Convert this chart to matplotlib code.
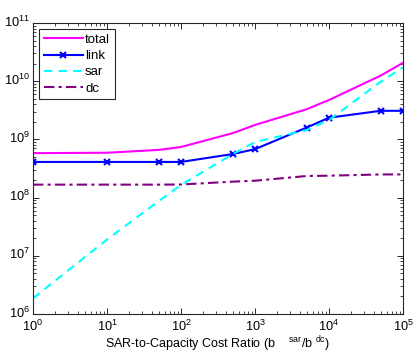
import matplotlib
matplotlib.use("Agg")
import matplotlib.pyplot as plt
import matplotlib.transforms as mtransforms
from matplotlib.ticker import LogLocator, NullFormatter

plt.rcParams['font.family'] = ['Liberation Sans', 'DejaVu Sans']
plt.rcParams['mathtext.fontset'] = 'custom'
plt.rcParams['mathtext.rm'] = 'Liberation Sans'
plt.rcParams['mathtext.it'] = 'Liberation Sans'

ratio = [1, 10, 50, 100, 500, 1000, 5000, 10000, 50000, 100000]
total = [5.8e8, 5.9e8, 6.6e8, 7.4e8, 1.28e9, 1.77e9, 3.3e9, 4.75e9, 1.25e10, 2.07e10]
link = [4.1e8, 4.1e8, 4.1e8, 4.1e8, 5.6e8, 6.8e8, 1.6e9, 2.36e9, 3.1e9, 3.1e9]
sar = [1.86e6, 1.9e7, 8.7e7, 1.65e8, 5.6e8, 9.0e8, 1.45e9, 2.15e9, 9.8e9, 1.73e10]
dc = [1.67e8, 1.67e8, 1.67e8, 1.68e8, 1.88e8, 1.95e8, 2.35e8, 2.38e8, 2.5e8, 2.5e8]

fig = plt.figure(figsize=(4.19, 3.53), dpi=100)
ax = fig.add_axes([33/419, 1-314/353, 370/419, 291/353])

ax.plot(ratio, total, color=(1, 0, 1), lw=1.5, label='total')
ax.plot(ratio, link, color=(0, 0, 1), lw=1.5, marker='x', ms=5, mew=1.5, label='link')
ax.plot(ratio, sar, color=(0, 1, 1), lw=1.5, ls=(0, (4, 3)), label='sar')
ax.plot(ratio, dc, color=(0.5, 0, 0.5), lw=1.5, ls=(0, (5, 2, 1.5, 2)), label='dc')

ax.set_xscale('log')
ax.set_yscale('log')
ax.set_xlim(1, 1e5)
ax.set_ylim(1e6, 1e11)

gray = (0.15, 0.15, 0.15)
for s in ax.spines.values():
    s.set_color(gray)
    s.set_linewidth(0.8)
ax.xaxis.set_major_locator(LogLocator(base=10, numticks=10))
ax.yaxis.set_major_locator(LogLocator(base=10, numticks=10))
ax.xaxis.set_minor_locator(LogLocator(base=10, subs=range(2, 10), numticks=20))
ax.yaxis.set_minor_locator(LogLocator(base=10, subs=range(2, 10), numticks=20))
ax.xaxis.set_minor_formatter(NullFormatter())
ax.yaxis.set_minor_formatter(NullFormatter())
ax.tick_params(which='both', direction='in', top=True, right=True, colors=gray,
               labelcolor='black', labelsize=9.2)
ax.tick_params(which='major', length=4, width=0.7)
ax.tick_params(which='minor', length=2, width=0.6)
ax.tick_params(axis='x', pad=3.5)
ax.tick_params(axis='y', pad=2)

# nudge y tick labels up slightly
offset = mtransforms.ScaledTranslation(0, 2.5/100, fig.dpi_scale_trans)
for lbl in ax.get_yticklabels():
    lbl.set_transform(lbl.get_transform() + offset)

ax.set_xlabel('SAR-to-Capacity Cost Ratio (b    $^{sar}$/b $^{dc}$)', fontsize=9, labelpad=0.5)

leg = ax.legend(loc='upper left', bbox_to_anchor=(0.016, 0.979), fontsize=9.5,
                frameon=True, fancybox=False, edgecolor=gray, framealpha=1,
                borderpad=0.35, labelspacing=0.3, handlelength=3.0, handletextpad=0.15,
                borderaxespad=0)
leg.get_frame().set_linewidth(0.8)

fig.savefig('out.png', dpi=100)
